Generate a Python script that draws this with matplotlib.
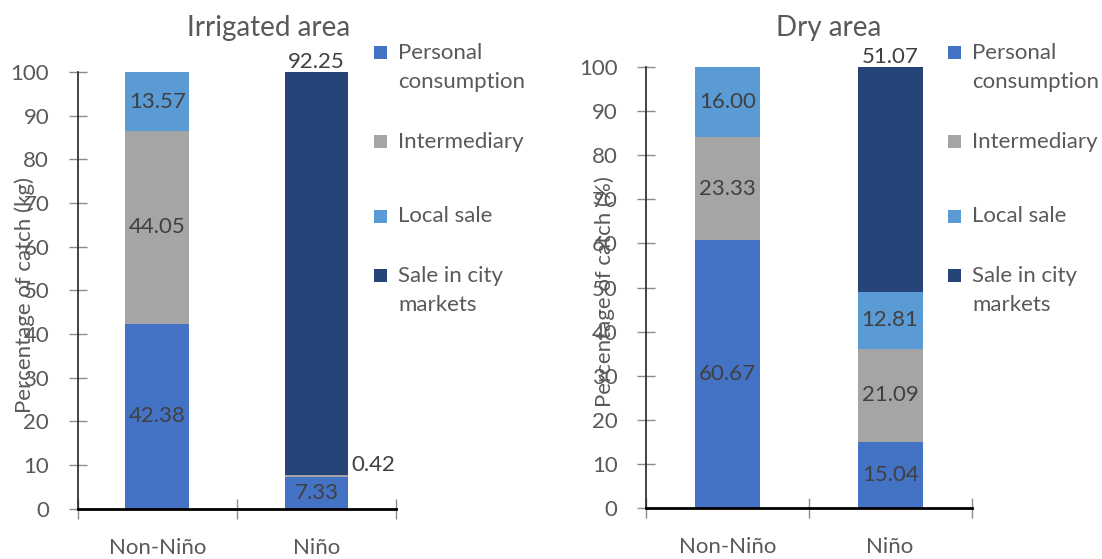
import numpy as np
import matplotlib.pyplot as plt
from matplotlib.patches import Rectangle

plt.rcParams['font.family'] = ['Lato', 'DejaVu Sans']

# Share of catch by destination (%)
seasons = ['Non-Niño', 'Niño']
series = ['Personal\nconsumption', 'Intermediary', 'Local sale', 'Sale in city\nmarkets']
colors = ['#4472C4', '#A5A5A5', '#5B9BD5', '#264478']

irrigated_personal = [42.38, 7.33]
irrigated_intermediary = [44.05, 0.42]
irrigated_local = [13.57, 0.0]
irrigated_city = [0.0, 92.25]

dry_personal = [60.67, 15.04]
dry_intermediary = [23.33, 21.09]
dry_local = [16.00, 12.81]
dry_city = [0.0, 51.07]

W, H = 1102, 559
fig = plt.figure(figsize=(W / 100, H / 100), dpi=100)

TXT = '#595959'
LBL = '#404040'
FS = 16


def px(x, y):
    return x / W, 1 - y / H


def draw_panel(rect, title, title_xy, ylabel, ylabel_xy, legend_x, values):
    ax = fig.add_axes(rect)
    x = np.arange(len(seasons))
    bottom = np.zeros(len(seasons))
    for k, (vals, col) in enumerate(zip(values, colors)):
        vals = np.array(vals)
        bars = ax.bar(x, vals, 0.4, bottom=bottom, color=col, linewidth=0, zorder=2)
        for j, (patch, v) in enumerate(zip(bars, vals)):
            if v == 0:
                # zero-share segments still show as a thin edge
                patch.set_edgecolor(col)
                patch.set_linewidth(1.2)
                patch.set_zorder(1.5)
                continue
            mid = bottom[j] + v / 2
            if k == len(values) - 1 and j == 1:
                ax.annotate(f'{v:.2f}', (x[j], bottom[j] + v), xytext=(0, 0),
                            textcoords='offset points', ha='center', va='bottom',
                            fontsize=FS, color=LBL)
            elif v < 1:
                ax.annotate(f'{v:.2f}', (x[j] + 0.2, mid), xytext=(2, 8),
                            textcoords='offset points', ha='left', va='center',
                            fontsize=FS, color=LBL)
            else:
                ax.text(x[j], mid, f'{v:.2f}', ha='center', va='center',
                        fontsize=FS, color=LBL, zorder=3)
        bottom = bottom + vals

    ax.set_xlim(-0.5, 1.5)
    ax.set_ylim(0, 100)
    ax.set_yticks(np.arange(0, 101, 10))
    ax.set_xticks([-0.5, 0.5, 1.5])
    ax.set_xticklabels([])
    ax.set_xticks(x, minor=True)
    ax.set_xticklabels(seasons, minor=True)
    ax.tick_params(axis='y', direction='inout', length=13, width=1, color='#8c8c8c',
                   labelsize=FS, labelcolor=TXT, pad=14)
    ax.tick_params(axis='x', which='major', direction='inout', length=14, width=1,
                   color='#8c8c8c')
    ax.tick_params(axis='x', which='minor', length=0, labelsize=FS, labelcolor=TXT, pad=21)
    for s in ['top', 'right']:
        ax.spines[s].set_visible(False)
    ax.spines['left'].set_color('#222222')
    ax.spines['left'].set_linewidth(1.2)
    ax.spines['bottom'].set_color('black')
    ax.spines['bottom'].set_linewidth(2)
    ax.spines['bottom'].set_zorder(4)

    fig.text(*px(*title_xy), title, ha='center', va='center', fontsize=20, color=TXT)
    fig.text(*px(*ylabel_xy), ylabel, ha='center', va='center', rotation=90,
             fontsize=FS, color=TXT)

    # legend: entries spaced evenly by centre, square beside first line
    for i, (name, col) in enumerate(zip(series, colors)):
        lines = name.split('\n')
        yc = 67.5 + 74.3 * i
        y0 = yc - (len(lines) - 1) * 29.5 / 2
        fig.add_artist(Rectangle(px(legend_x, y0 + 6.5), 13 / W, 13 / H,
                                 transform=fig.transFigure, color=col, linewidth=0))
        for n, line in enumerate(lines):
            fig.text(*px(legend_x + 24, y0 + n * 29.5), line, ha='left', va='center',
                     fontsize=FS, color=TXT)
    return ax


draw_panel([77.7 / W, 1 - 508.7 / H, (396 - 77.7) / W, (508.7 - 72) / H],
           'Irrigated area', (269, 28), 'Percentage of catch (kg)', (25, 295), 374,
           [irrigated_personal, irrigated_intermediary, irrigated_local, irrigated_city])
draw_panel([646 / W, 1 - 508.3 / H, (971.5 - 646) / W, (508.3 - 66.7) / H],
           'Dry area', (829, 28), 'Percentage of catch (%)', (605, 292), 948,
           [dry_personal, dry_intermediary, dry_local, dry_city])

fig.savefig('out.png', dpi=100)
